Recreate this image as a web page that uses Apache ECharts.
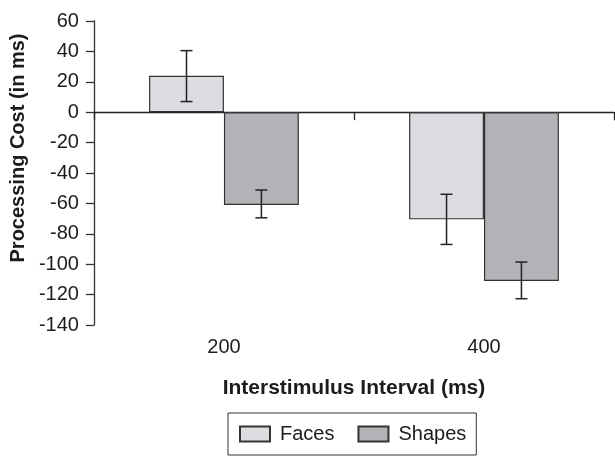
<!DOCTYPE html>
<html>
<head>
<meta charset="utf-8">
<script src="https://cdn.jsdelivr.net/npm/echarts@6/dist/echarts.min.js"></script>
<style>html,body{margin:0;padding:0;background:#fff}#c{width:615px;height:456px}</style>
</head>
<body>
<div id="c"></div>
<script>
const categories = ['200', '400'];
const facesValues = [24, -70.5];
const shapesValues = [-61, -111];
const facesErrLow = [7, -87];
const facesErrHigh = [40.5, -54];
const shapesErrLow = [-69.5, -122.7];
const shapesErrHigh = [-51.2, -98.6];
const yTicks = { min: -140, max: 60, interval: 20 };

const FONT = '"Liberation Sans", Arial, sans-serif';
const TXT = '#1f1b1c';
const CAT_GAP = 0.424;

function errData(low, high) {
  return categories.map((c, i) => [i, low[i], high[i]]);
}
function errRender(sign) {
  return function (params, api) {
    const idx = api.value(0);
    const band = api.size([1, 0])[0];
    const off = sign * band * (1 - CAT_GAP) / 4;
    const p1 = api.coord([idx, api.value(1)]);
    const p2 = api.coord([idx, api.value(2)]);
    const x = p1[0] + off;
    const cap = 6;
    const style = { stroke: '#222', lineWidth: 1.5 };
    return {
      type: 'group',
      children: [
        { type: 'line', shape: { x1: x, y1: p1[1], x2: x, y2: p2[1] }, style },
        { type: 'line', shape: { x1: x - cap, y1: p1[1], x2: x + cap, y2: p1[1] }, style },
        { type: 'line', shape: { x1: x - cap, y1: p2[1], x2: x + cap, y2: p2[1] }, style }
      ]
    };
  };
}

const chart = echarts.init(document.getElementById('c'), null, { renderer: 'canvas' });
chart.setOption({
  animation: false,
  backgroundColor: '#fff',
  textStyle: { fontFamily: FONT, color: TXT },
  grid: { left: 92, right: 1, top: 21, bottom: 131, containLabel: false },
  legend: {
    data: ['Faces', 'Shapes'],
    left: 228, top: 413,
    padding: [11, 10, 11, 11],
    borderColor: '#333', borderWidth: 1,
    itemWidth: 30, itemHeight: 15, itemGap: 23,
    icon: 'rect',
    textStyle: { fontFamily: FONT, fontSize: 20, color: TXT, padding: [0, 0, 0, 5] }
  },
  xAxis: [
    {
      type: 'category', data: categories, gridIndex: 0,
      position: 'bottom',
      axisLine: { onZero: true, lineStyle: { color: '#222', width: 1.3 } },
      axisTick: { show: true, length: 8, lineStyle: { color: '#222', width: 1.3 } },
      axisLabel: { show: false },
      splitLine: { show: false }
    },
    {
      type: 'category', data: categories, gridIndex: 0,
      position: 'bottom',
      axisLine: { show: false, onZero: false },
      axisTick: { show: false },
      axisLabel: { show: true, margin: 12, fontSize: 20, color: TXT, fontFamily: FONT },
      name: 'Interstimulus Interval (ms)',
      nameLocation: 'middle', nameGap: 53,
      nameTextStyle: { fontSize: 21, fontWeight: 'bold', color: TXT, fontFamily: FONT }
    }
  ],
  yAxis: {
    type: 'value', min: yTicks.min, max: yTicks.max, interval: yTicks.interval,
    axisLine: { show: true, lineStyle: { color: '#333', width: 1.3 } },
    axisTick: { show: true, length: 8, lineStyle: { color: '#333', width: 1.3 } },
    axisLabel: { margin: 15, fontSize: 20, color: TXT, fontFamily: FONT },
    splitLine: { show: false },
    name: 'Processing Cost (in ms)',
    nameLocation: 'middle', nameGap: 60,
    nameTextStyle: { fontSize: 20, fontWeight: 'bold', color: TXT, fontFamily: FONT, padding: [0, 0, 0, 50] }
  },
  series: [
    {
      name: 'Faces', type: 'bar', data: facesValues,
      barGap: '0%', barCategoryGap: (CAT_GAP * 100) + '%',
      itemStyle: { color: '#dcdde0', borderColor: '#333', borderWidth: 1.2 }
    },
    {
      name: 'Shapes', type: 'bar', data: shapesValues,
      barGap: '0%', barCategoryGap: (CAT_GAP * 100) + '%',
      itemStyle: { color: '#b2b3b6', borderColor: '#333', borderWidth: 1.2 }
    },
    {
      name: 'FacesErr', type: 'custom', data: errData(facesErrLow, facesErrHigh),
      encode: { x: 0, y: [1, 2] }, renderItem: errRender(-1), z: 5, silent: true
    },
    {
      name: 'ShapesErr', type: 'custom', data: errData(shapesErrLow, shapesErrHigh),
      encode: { x: 0, y: [1, 2] }, renderItem: errRender(1), z: 5, silent: true
    }
  ]
});
</script>
</body>
</html>
